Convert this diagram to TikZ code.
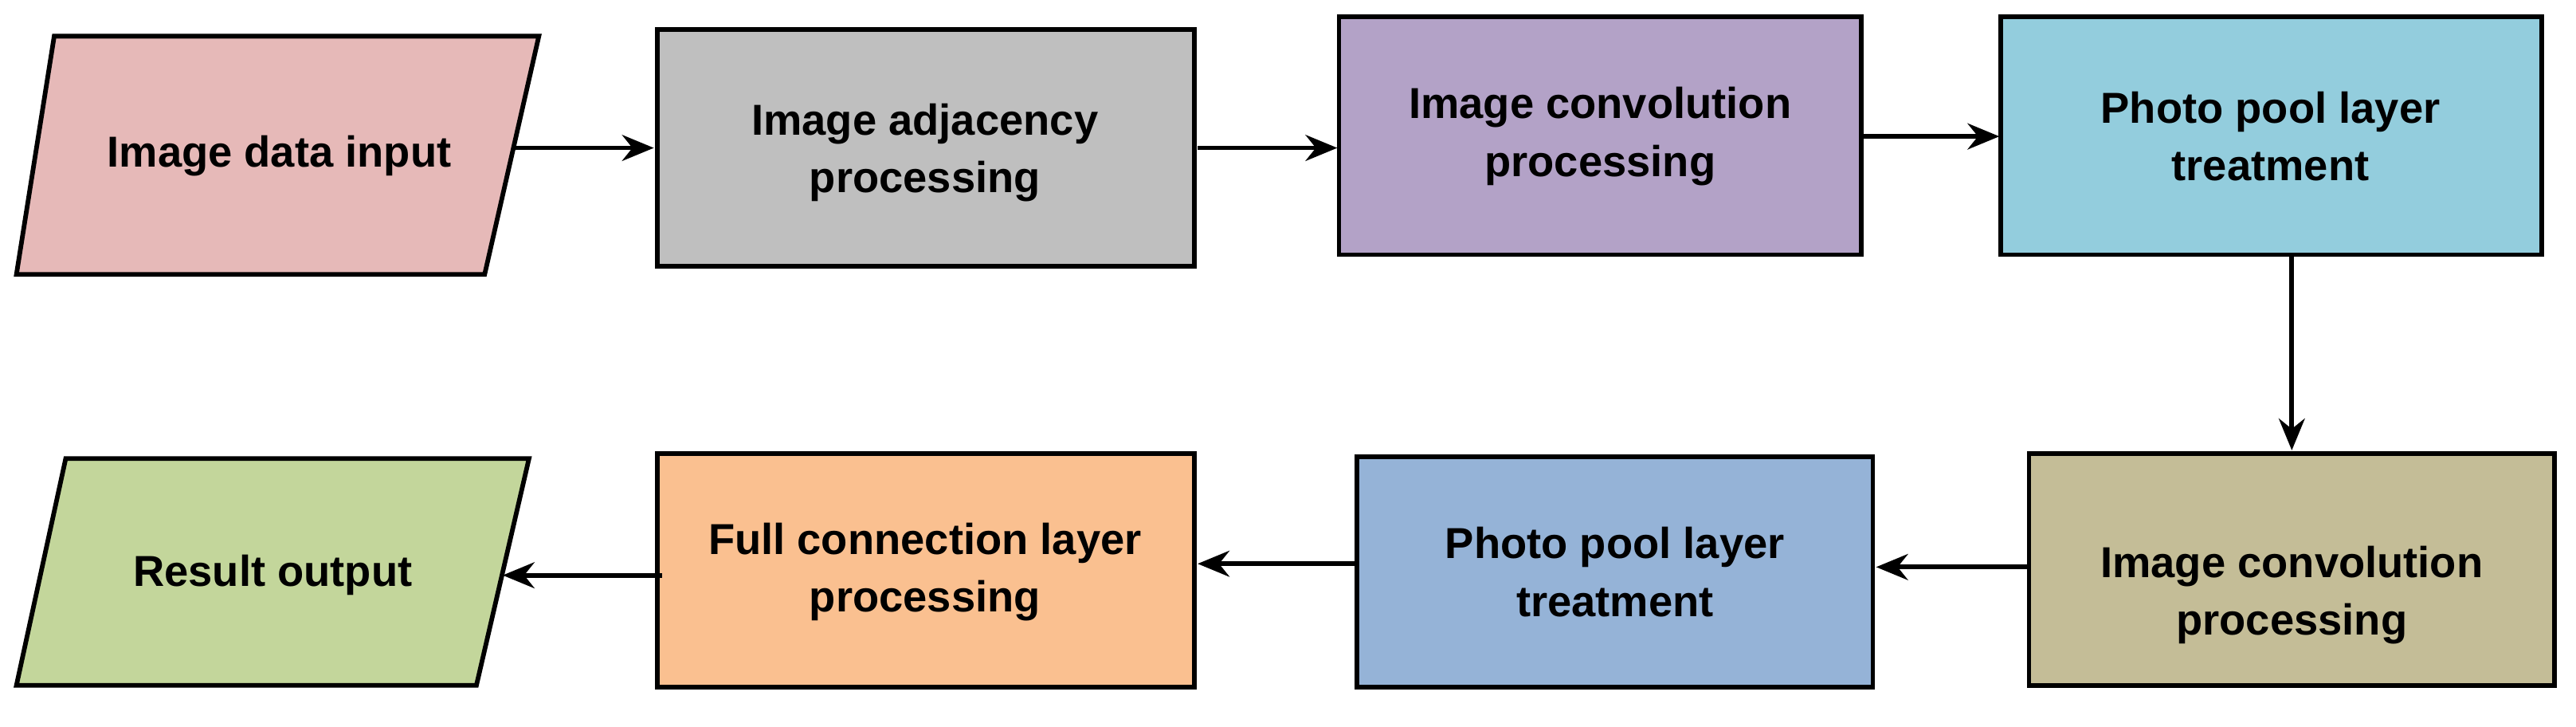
\documentclass[tikz,border=0pt]{standalone}
\usepackage{fontspec}
\setmainfont{Liberation Sans}
\usetikzlibrary{arrows.meta}
\definecolor{cpink}{HTML}{E6B9B8}
\definecolor{cgray}{HTML}{BFBFBF}
\definecolor{cpurp}{HTML}{B3A2C7}
\definecolor{ccyan}{HTML}{93CDDD}
\definecolor{ctan}{HTML}{C4BD97}
\definecolor{cblue}{HTML}{95B3D7}
\definecolor{corng}{HTML}{FAC090}
\definecolor{cgrn}{HTML}{C3D69B}
\begin{document}
\begin{tikzpicture}[x=0.02cm,y=-0.02cm,
  shp/.style={draw=black,line width=1.6pt},
  txt/.style={font=\fontsize{15}{20}\selectfont\bfseries,align=center},
  arr/.style={line width=1.6pt,-{Stealth[length=11pt,width=9pt]}}]
\useasboundingbox (0,0) rectangle (1568,442);
% parallelograms
\filldraw[shp,fill=cpink] (33,22) -- (328,22) -- (295,167) -- (10,167) -- cycle;
\node[txt] (n1) at (170,95) {Image data input};
\filldraw[shp,fill=cgrn] (40,279) -- (322,279) -- (290,417) -- (10,417) -- cycle;
\node[txt] (n8) at (166,350) {Result output};
% boxes
\filldraw[shp,fill=cgray] (400,18) rectangle (727,162);
\node[txt] (n2) at (563,93) {Image adjacency\\processing};
\filldraw[shp,fill=cpurp] (815,10) rectangle (1133,155);
\node[txt] (n3) at (974,83) {Image convolution\\processing};
\filldraw[shp,fill=ccyan] (1218,10) rectangle (1547,155);
\node[txt] (n4) at (1382,83) {Photo pool layer\\treatment};
\filldraw[shp,fill=ctan] (1235,276) rectangle (1555,417);
\node[txt] (n5) at (1395,362) {Image convolution\\processing};
\filldraw[shp,fill=cblue] (826,278) rectangle (1140,418);
\node[txt] (n6) at (983,348) {Photo pool layer\\treatment};
\filldraw[shp,fill=corng] (400,276) rectangle (727,418);
\node[txt] (n7) at (563,348) {Full connection layer\\processing};
% connector end points
\coordinate (a1) at (312,90); \coordinate (b1) at (398,90);
\coordinate (a2) at (729,90); \coordinate (b2) at (814,90);
\coordinate (a3) at (1134,83); \coordinate (b3) at (1217,83);
\coordinate (a4) at (1395,156); \coordinate (b4) at (1395,274);
\coordinate (a5) at (1234,345); \coordinate (b5) at (1142,345);
\coordinate (a6) at (825,343); \coordinate (b6) at (729,343);
\coordinate (a7) at (403,350); \coordinate (b7) at (306,350);
\draw[arr] (a1) -- (b1);
\draw[arr] (a2) -- (b2);
\draw[arr] (a3) -- (b3);
\draw[arr] (a4) -- (b4);
\draw[arr] (a5) -- (b5);
\draw[arr] (a6) -- (b6);
\draw[arr] (a7) -- (b7);
\end{tikzpicture}
\end{document}
